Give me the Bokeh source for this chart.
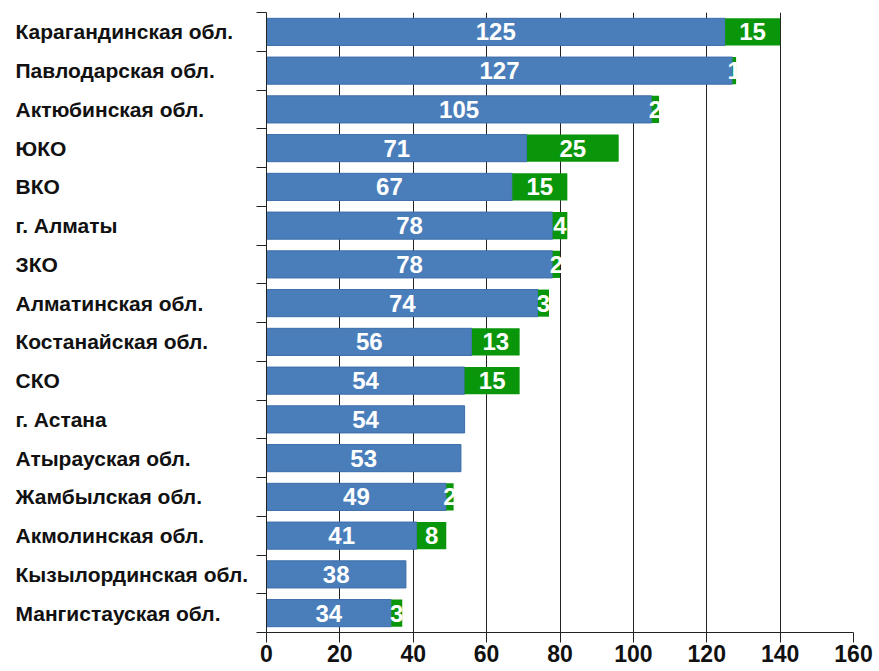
from bokeh.plotting import figure
from bokeh.layouts import row
from bokeh.models import ColumnDataSource, Range1d, FixedTicker
from bokeh.core.properties import value
from bokeh.embed import file_html
from bokeh.resources import INLINE

regions = ["Карагандинская обл.", "Павлодарская обл.", "Актюбинская обл.", "ЮКО", "ВКО",
           "г. Алматы", "ЗКО", "Алматинская обл.", "Костанайская обл.", "СКО", "г. Астана",
           "Атырауская обл.", "Жамбылская обл.", "Акмолинская обл.", "Кызылординская обл.",
           "Мангистауская обл."]
blue_vals = [125, 127, 105, 71, 67, 78, 78, 74, 56, 54, 54, 53, 49, 41, 38, 34]
green_vals = [15, 1, 2, 25, 15, 4, 2, 3, 13, 15, 0, 0, 2, 8, 0, 3]
x_ticks = [0, 20, 40, 60, 80, 100, 120, 140, 160]

n = len(regions)
ypos = [n - i - 0.5 for i in range(n)]
totals = [b + g for b, g in zip(blue_vals, green_vals)]

src = ColumnDataSource(dict(
    y=ypos, name=regions, blue=blue_vals, green=green_vals, total=totals,
    zero=[0] * n,
    lx=[0] * n,
    bmid=[b / 2 for b in blue_vals],
    blab=[str(b) for b in blue_vals],
))
gidx = [i for i in range(n) if green_vals[i] > 0]
gsrc = ColumnDataSource(dict(
    y=[ypos[i] for i in gidx],
    gmid=[blue_vals[i] + green_vals[i] / 2 for i in gidx],
    glab=[str(green_vals[i]) for i in gidx],
))

FONT = "Liberation Sans"
H = 671
TOP = 12
BOTTOM = 39
yr = Range1d(0, n)

# left panel holding the left-aligned category names
pl = figure(width=254, height=H, output_backend="svg", toolbar_location=None,
            x_range=Range1d(-15, 239), y_range=yr,
            min_border_left=0, min_border_right=0, min_border_top=TOP, min_border_bottom=BOTTOM)
pl.axis.visible = False
pl.grid.grid_line_color = None
pl.outline_line_color = None
pl.text(x="lx", y="y", text="name", source=src, text_color="#111111",
        text_font=value(FONT), text_font_style="bold", text_font_size="21px",
        text_align="left", text_baseline="middle")

p = figure(width=625, height=H, output_backend="svg", toolbar_location=None,
           x_range=Range1d(0, 160), y_range=yr,
           min_border_left=12, min_border_right=26, min_border_top=TOP, min_border_bottom=BOTTOM)
p.outline_line_color = None
p.background_fill_color = "white"
p.border_fill_color = "white"

p.hbar(y="y", left="zero", right="blue", height=0.7, source=src,
       fill_color="#4A7EBB", line_color="#3C6DA8", line_width=1)
p.hbar(y="y", left="blue", right="total", height=0.7, source=src,
       fill_color="#0A960A", line_color=None)

p.text(x="bmid", y="y", text="blab", source=src, text_color="white",
       text_font=value(FONT), text_font_style="bold", text_font_size="24px",
       text_align="center", text_baseline="middle")
p.text(x="gmid", y="y", text="glab", source=gsrc, text_color="white",
       text_font=value(FONT), text_font_style="bold", text_font_size="24px",
       text_align="center", text_baseline="middle")

p.xaxis.ticker = FixedTicker(ticks=x_ticks)
p.xaxis.major_label_text_font = FONT
p.xaxis.major_label_text_font_style = "bold"
p.xaxis.major_label_text_font_size = "23px"
p.xaxis.major_label_text_color = "#111111"
p.xaxis.major_tick_in = 0
p.xaxis.major_tick_out = 10
p.xaxis.minor_tick_line_color = None
p.xaxis.axis_line_color = "#222222"
p.xaxis.major_tick_line_color = "#222222"
p.xaxis.major_label_standoff = 2

p.yaxis.ticker = FixedTicker(ticks=list(range(n + 1)))
p.yaxis.major_label_overrides = {i: "" for i in range(n + 1)}
p.yaxis.major_label_standoff = 0
p.yaxis.major_tick_in = 0
p.yaxis.major_tick_out = 10
p.yaxis.minor_tick_line_color = None
p.yaxis.axis_line_color = "#222222"
p.yaxis.major_tick_line_color = "#222222"

p.xgrid.ticker = FixedTicker(ticks=x_ticks)
p.xgrid.grid_line_color = "#222222"
p.xgrid.grid_line_width = 1
p.ygrid.grid_line_color = None

layout = row(pl, p, spacing=0)
open("out.html", "w").write(file_html(layout, INLINE))
